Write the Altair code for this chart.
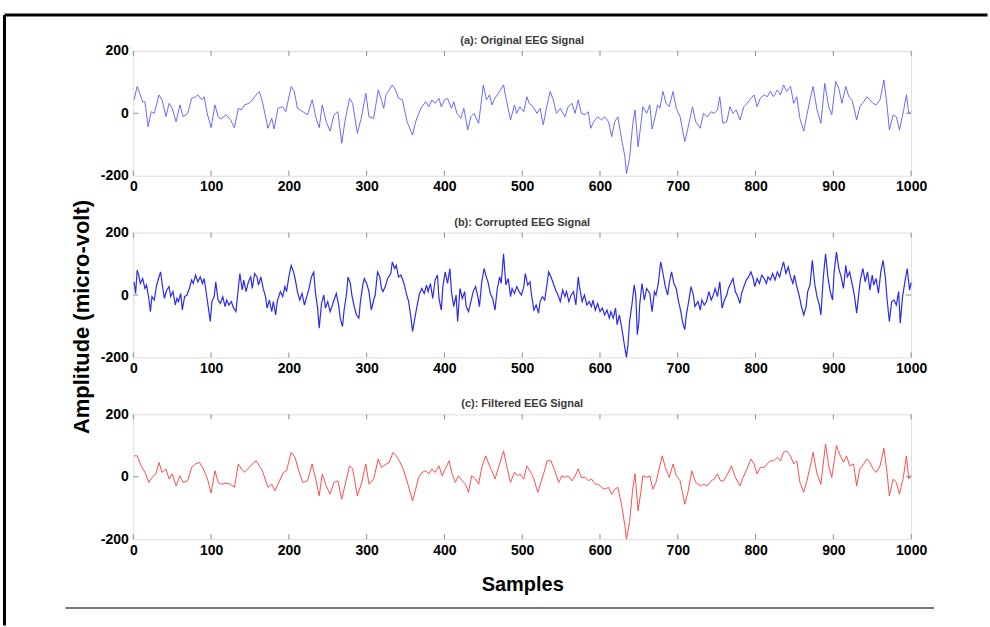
import altair as alt
import pandas as pd

# ---- signal readings: (sample index, amplitude in micro-volt) ----
ORIGINAL = [(1,43),(5,86),(9,59),(12,37),(15,37),(19,-43),(23,5),(27,0),(33,59),(37,43),(42,-11),(46,32),(50,16),(55,-27),(60,27),(64,-11),(70,0),(75,48),(80,53),(83,59),(88,43),(91,53),(95,0),(100,-46),(105,27),(109,-11),(113,-18),(119,-5),(125,-21),(130,-46),(135,16),(139,11),(143,27),(149,32),(153,43),(158,59),(162,70),(166,37),(173,-48),(178,-16),(181,-50),(186,16),(192,21),(196,5),(203,86),(207,70),(211,16),(218,5),(224,-5),(230,43),(235,-16),(239,-46),(243,27),(248,-27),(253,-57),(258,-5),(263,5),(268,-96),(272,-27),(278,48),(282,32),(288,-64),(293,-16),(299,64),(303,-11),(309,-16),(315,75),(319,43),(322,16),(325,60),(329,75),(333,91),(337,75),(341,48),(346,43),(352,-27),(359,-70),(363,-27),(367,0),(371,21),(376,37),(380,21),(384,43),(388,32),(393,48),(396,21),(400,43),(404,48),(409,16),(412,37),(416,0),(421,-16),(425,16),(430,-53),(434,-11),(438,0),(444,-32),(450,91),(454,43),(458,59),(461,27),(465,48),(472,75),(476,91),(480,37),(485,-21),(490,27),(493,0),(497,21),(502,5),(506,53),(509,32),(514,21),(519,0),(523,16),(527,-37),(532,27),(536,70),(540,43),(544,0),(549,16),(555,-11),(559,21),(564,32),(568,0),(572,43),(576,0),(581,-5),(585,5),(588,-48),(592,-27),(597,-11),(602,-21),(606,-11),(611,-27),(615,-75),(619,-27),(623,-11),(628,-86),(632,-139),(634,-193),(638,-144),(642,-37),(645,11),(649,-107),(653,-27),(655,21),(660,0),(664,27),(667,-50),(671,-11),(674,27),(677,16),(681,70),(685,32),(689,21),(694,70),(698,16),(703,-11),(709,-91),(713,-48),(719,21),(723,-27),(729,-48),(733,0),(738,-11),(743,5),(747,0),(751,11),(754,53),(758,-32),(763,-27),(767,21),(771,0),(775,11),(780,-21),(785,21),(789,32),(794,48),(798,59),(802,21),(806,48),(811,59),(815,53),(819,70),(823,53),(828,75),(832,59),(836,91),(840,70),(845,86),(849,32),(853,53),(857,-16),(862,-57),(866,-5),(870,43),(874,86),(879,11),(884,-32),(889,96),(894,21),(898,-5),(903,102),(907,80),(911,32),(916,86),(920,53),(924,43),(930,-21),(934,21),(939,37),(943,53),(947,43),(951,32),(955,27),(960,43),(965,107),(969,27),(972,-53),(977,-5),(981,-11),(985,-53),(990,5),(994,59),(997,0),(1000,5)]

CORRUPTED = [(1,42),(3,5),(5,80),(7,64),(9,37),(12,53),(15,21),(17,32),(20,-11),(22,-53),(24,-5),(27,-16),(30,32),(32,48),(35,74),(38,21),(40,-11),(43,16),(46,27),(48,-5),(51,11),(54,-32),(56,-11),(58,-21),(61,5),(63,-48),(66,-5),(69,0),(72,21),(75,48),(77,37),(80,64),(83,42),(86,58),(89,37),(91,53),(93,21),(96,-32),(99,-85),(101,-21),(104,-5),(106,42),(109,-16),(112,-27),(115,-5),(118,-37),(120,-16),(123,-32),(126,-21),(129,-42),(132,-53),(135,21),(137,69),(140,16),(142,48),(145,11),(148,42),(151,58),(153,21),(156,69),(159,58),(161,32),(164,58),(167,21),(170,-5),(172,-42),(175,-16),(178,-53),(180,-21),(183,-64),(185,-21),(189,11),(192,-5),(195,27),(197,11),(200,58),(203,95),(206,74),(208,53),(211,11),(214,-16),(217,5),(220,-32),(223,-5),(226,21),(229,58),(232,74),(234,11),(237,-42),(239,-106),(242,-27),(245,0),(247,-42),(250,-21),(253,-53),(256,-32),(258,-16),(261,5),(264,-32),(266,-74),(269,-101),(271,-48),(274,0),(276,58),(279,37),(281,0),(284,-37),(287,-64),(290,-74),(292,-21),(295,32),(297,53),(300,37),(303,11),(306,-48),(309,-16),(311,0),(314,74),(317,58),(319,21),(321,11),(324,27),(327,53),(331,69),(333,106),(336,85),(338,95),(341,58),(344,64),(348,37),(351,5),(354,-21),(357,-74),(359,-117),(362,-74),(365,-32),(368,5),(371,21),(374,5),(377,32),(379,11),(382,37),(385,-11),(388,48),(391,64),(393,-11),(396,-48),(398,27),(401,74),(404,37),(407,85),(409,11),(412,-37),(415,0),(417,-85),(420,21),(423,-11),(426,11),(428,-37),(431,-53),(434,-21),(437,11),(440,27),(443,-5),(445,-37),(448,42),(451,85),(453,64),(456,42),(459,5),(462,-11),(465,-48),(468,21),(471,58),(473,37),(476,132),(479,32),(482,53),(485,-5),(487,21),(490,5),(493,27),(496,11),(499,0),(502,27),(504,69),(507,32),(510,42),(512,0),(515,-48),(518,-32),(521,-58),(523,-21),(526,-5),(529,-16),(532,37),(534,74),(537,58),(540,37),(543,16),(546,0),(549,-21),(552,16),(555,-5),(557,11),(560,-21),(563,0),(566,11),(569,-32),(572,58),(574,21),(577,-21),(580,0),(583,-32),(586,-21),(589,-37),(591,-16),(594,-48),(597,-27),(600,-53),(603,-42),(606,-64),(609,-48),(612,-74),(614,-53),(617,-74),(620,-42),(622,-95),(625,-64),(628,-106),(631,-154),(634,-200),(636,-159),(638,-85),(641,-32),(644,32),(646,0),(648,-127),(650,-85),(651,-32),(654,37),(657,-16),(660,21),(664,5),(667,-53),(670,11),(672,0),(675,37),(678,106),(681,69),(684,27),(687,0),(689,37),(692,74),(695,37),(698,21),(701,-21),(704,-53),(706,-85),(709,-111),(711,-64),(714,-21),(717,27),(720,0),(722,-37),(726,-21),(729,-48),(731,-16),(734,-32),(737,-21),(740,11),(743,-16),(745,-5),(748,21),(751,-5),(754,42),(757,-42),(760,-16),(763,0),(765,21),(768,37),(771,53),(774,11),(777,-5),(780,-27),(782,5),(785,27),(788,48),(791,58),(794,74),(797,53),(799,27),(802,53),(805,37),(808,64),(811,53),(814,37),(816,58),(819,48),(822,69),(825,48),(828,74),(831,58),(833,80),(836,106),(839,69),(842,90),(845,58),(848,37),(850,64),(853,27),(856,0),(859,-37),(862,-64),(865,-37),(867,11),(870,32),(873,111),(876,37),(879,-5),(882,-32),(884,-64),(887,53),(890,132),(893,58),(896,11),(899,-16),(901,74),(904,138),(907,85),(910,58),(913,21),(916,95),(918,58),(921,74),(924,37),(927,0),(930,-58),(933,11),(935,53),(938,85),(941,42),(944,74),(947,16),(950,64),(952,32),(955,53),(958,5),(961,74),(964,111),(967,53),(969,-11),(972,-85),(975,-21),(978,-16),(981,-32),(984,11),(986,-90),(989,-5),(992,42),(995,85),(998,16),(1000,40)]

FILTERED = [(1,67),(5,67),(10,35),(15,14),(20,-18),(24,-2),(29,9),(33,46),(37,14),(42,25),(46,-7),(50,9),(55,-29),(60,3),(64,-18),(70,-13),(75,30),(80,41),(85,46),(89,30),(93,9),(96,-13),(100,-52),(105,19),(109,-18),(113,-24),(119,-20),(125,-24),(130,-34),(135,41),(139,25),(143,14),(149,30),(153,41),(158,51),(162,35),(166,19),(173,-34),(178,-24),(182,-45),(188,-13),(193,14),(197,19),(203,78),(208,62),(212,25),(218,-18),(224,-13),(230,41),(235,-13),(239,-61),(243,9),(248,-29),(253,-56),(258,-18),(263,-13),(268,-72),(272,-29),(278,35),(282,25),(288,-61),(293,-24),(299,41),(303,-24),(309,-7),(315,57),(319,30),(325,41),(329,46),(334,78),(338,67),(342,51),(347,25),(353,-24),(359,-77),(363,-40),(367,-2),(371,14),(376,19),(380,9),(384,25),(388,14),(393,35),(397,3),(401,25),(406,51),(410,9),(414,-18),(418,3),(423,-13),(427,-24),(431,-50),(435,3),(440,-7),(444,-24),(448,30),(453,67),(457,41),(461,19),(465,-7),(471,41),(476,83),(480,35),(485,-18),(490,14),(494,3),(497,9),(502,-7),(506,35),(511,14),(515,-7),(520,-50),(524,-18),(528,14),(532,51),(537,51),(541,25),(547,-18),(551,3),(555,-2),(559,3),(564,-13),(568,3),(572,25),(576,-2),(581,-2),(585,-13),(589,-7),(594,-24),(598,-24),(602,-34),(606,-40),(611,-34),(615,-56),(619,-40),(623,-34),(628,-93),(632,-157),(634,-200),(638,-147),(642,-40),(645,9),(649,-109),(653,-40),(655,3),(660,-2),(664,3),(668,-40),(672,-18),(675,14),(680,67),(684,30),(689,-2),(694,41),(698,3),(703,-13),(709,-88),(713,-50),(718,19),(723,-18),(729,-29),(733,-24),(738,-29),(743,-13),(747,-7),(751,9),(755,-13),(759,-13),(764,9),(769,35),(774,-2),(780,-29),(784,-2),(789,25),(794,57),(798,41),(802,9),(806,30),(811,30),(815,41),(819,51),(823,51),(828,62),(832,51),(836,78),(840,83),(845,67),(849,41),(853,51),(857,-18),(862,-50),(866,-13),(870,30),(874,78),(879,9),(884,-24),(890,105),(894,35),(898,-2),(904,100),(908,73),(913,46),(917,67),(921,35),(926,41),(930,-29),(934,25),(939,41),(943,57),(947,46),(951,25),(955,14),(960,35),(965,91),(969,14),(972,-61),(977,-7),(981,-18),(985,-56),(990,-2),(994,67),(997,-7),(1000,5)]

PANEL_TITLES = ["(a): Original EEG Signal", "(b): Corrupted EEG Signal", "(c): Filtered EEG Signal"]
LINE_COLORS = ["#5a5aff", "#2b2bf0", "#ff3a3a"]
X_TICKS = list(range(0, 1001, 100))
Y_TICKS = [-200, 0, 200]

W, H = 779, 125
FONT = "Liberation Sans, Arial, sans-serif"
FRAME = "#8c8c8c"

tick_df = pd.DataFrame({"n": X_TICKS})


def panel(series, title, color, width, y_title=None, x_title=None):
    df = pd.DataFrame(series, columns=["n", "amp"])
    x_axis = alt.Axis(values=X_TICKS, ticks=False, domain=False, grid=False,
                      labelExpr="'' + datum.value",
                      labelFont=FONT, labelFontSize=14, labelFontWeight="bold",
                      labelColor="black", labelPadding=4, labelFlush=False,
                      title=x_title, titleFont=FONT, titleFontSize=20,
                      titleFontWeight="bold", titleColor="black", titlePadding=17)
    y_axis = alt.Axis(values=Y_TICKS, ticks=False, domain=False, grid=False,
                      labelExpr="'' + datum.value",
                      labelFont=FONT, labelFontSize=14, labelFontWeight="bold",
                      labelColor="black", labelPadding=5,
                      title=y_title, titleFont=FONT, titleFontSize=22,
                      titleFontWeight="bold", titleColor="black",
                      titlePadding=7, titleY=84)
    x = alt.X("n:Q", scale=alt.Scale(domain=[0, 1000], nice=False), axis=x_axis)
    y = alt.Y("amp:Q", scale=alt.Scale(domain=[-200, 200], nice=False), axis=y_axis)
    line = alt.Chart(df).mark_line(color=color, strokeWidth=width).encode(x=x, y=y)
    # inward tick marks on all four edges (MATLAB box style)
    bottom_ticks = alt.Chart(tick_df).mark_rule(color=FRAME, strokeWidth=1).encode(
        x="n:Q", y=alt.value(H), y2=alt.value(H - 5))
    top_ticks = alt.Chart(tick_df).mark_rule(color=FRAME, strokeWidth=1).encode(
        x="n:Q", y=alt.value(0), y2=alt.value(5))
    left_zero = alt.Chart().mark_rule(color=FRAME, strokeWidth=1).encode(
        x=alt.value(0), x2=alt.value(5), y=alt.value(H / 2))
    right_zero = alt.Chart().mark_rule(color=FRAME, strokeWidth=1).encode(
        x=alt.value(W - 5), x2=alt.value(W), y=alt.value(H / 2))
    heading = alt.Chart().mark_text(
        text=title, font=FONT, fontSize=11, fontWeight="bold", color="#3a3a3a",
        align="center", baseline="middle").encode(x=alt.value(W / 2), y=alt.value(-10))
    return alt.layer(line, bottom_ticks, top_ticks, left_zero, right_zero, heading).properties(
        width=W, height=H)


pa = panel(ORIGINAL, PANEL_TITLES[0], LINE_COLORS[0], 0.9)
pb = panel(CORRUPTED, PANEL_TITLES[1], LINE_COLORS[1], 1.2, y_title="Amplitude (micro-volt)")
pc = panel(FILTERED, PANEL_TITLES[2], LINE_COLORS[2], 0.9, x_title="Samples")

# page frame: heavy black lines on top and left, grey rule under the figure
frame_top = alt.Chart().mark_rule(color="black", strokeWidth=3).encode(
    x=alt.value(-129), x2=alt.value(855.5), y=alt.value(-36))
frame_left = alt.Chart().mark_rule(color="black", strokeWidth=3).encode(
    x=alt.value(-129), y=alt.value(-36), y2=alt.value(575.5))
frame_bottom = alt.Chart().mark_rule(color="#777777", strokeWidth=2).encode(
    x=alt.value(-68), x2=alt.value(802), y=alt.value(558))
pa = alt.layer(pa, frame_top, frame_left, frame_bottom)

chart = alt.vconcat(pa, pb, pc, spacing=57, bounds="flush").properties(
    padding={"left": 2.5, "top": 12.5, "right": 0, "bottom": 0}
).configure_view(stroke=FRAME, strokeWidth=2).configure(background="white")

chart.save("out.html", embed_options={"renderer": "svg", "actions": False})
